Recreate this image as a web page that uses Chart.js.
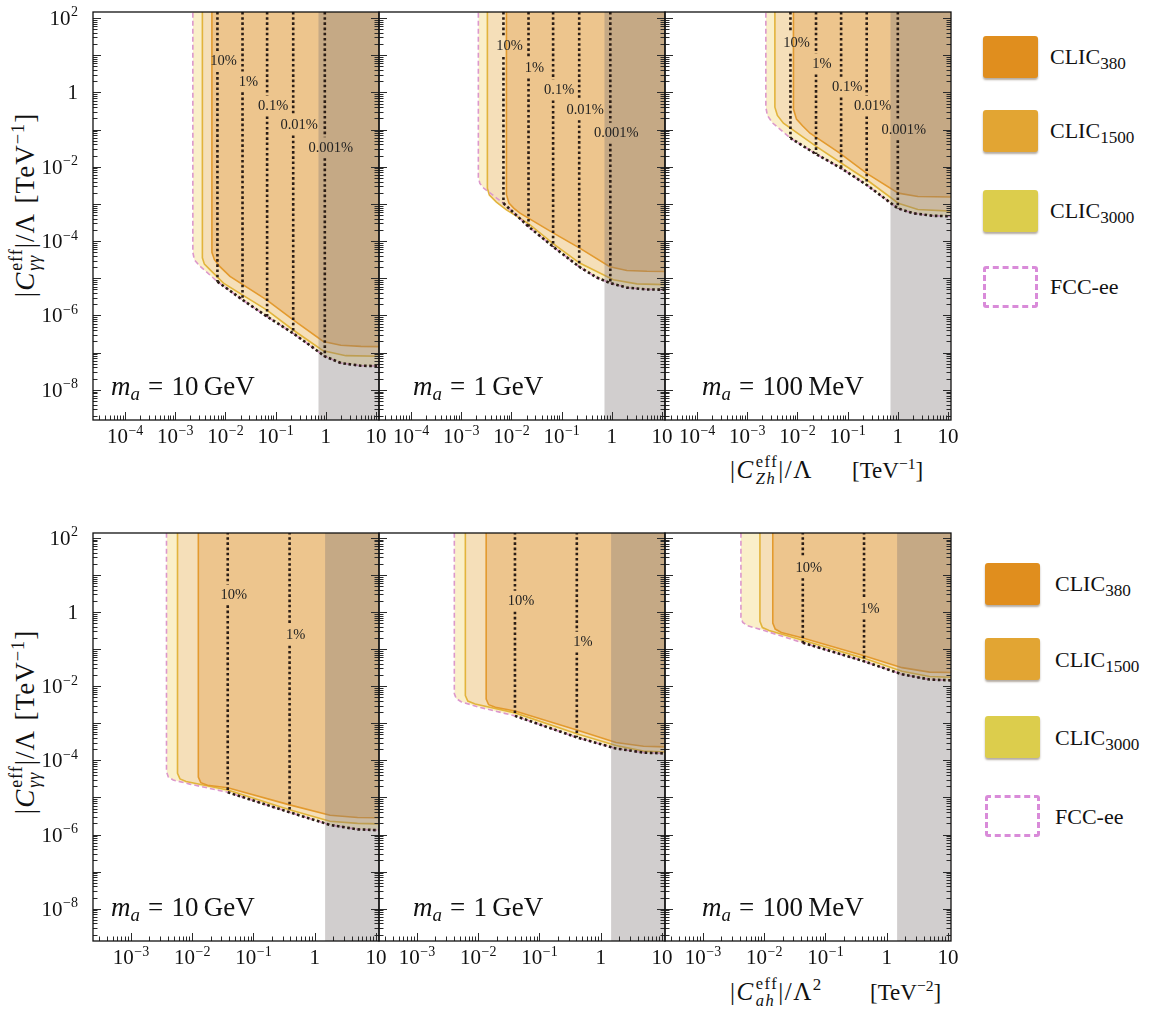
<!DOCTYPE html>
<html>
<head>
<meta charset="utf-8">
<title>ALP couplings: CLIC vs FCC-ee</title>
<script src="https://cdn.jsdelivr.net/npm/chart.js@4.4.1/dist/chart.umd.min.js"></script>
<style>
  body { margin: 0; width: 1149px; height: 1009px; position: relative; overflow: hidden; background: #fff;
         font-family: "Liberation Serif", "DejaVu Serif", serif; color: #111; }
  canvas { position: absolute; }
  .sw { position: absolute; width: 55px; height: 42px; border-radius: 3px; box-shadow: 0 2px 2px rgba(90,70,50,.45); box-sizing: border-box; }
  .leg { position: absolute; font-size: 22px; white-space: nowrap; transform: translateY(-50%); line-height: 1; }
  .leg sub { font-size: 0.78em; vertical-align: -0.3em; line-height: 0; }
  .ss { display: inline-block; vertical-align: -0.32em; font-size: 0.66em; line-height: 1; margin-left: 1px; }
  .ss span { display: block; }
  sup { font-size: 0.68em; vertical-align: 0.55em; line-height: 0; }
  .yt { position: absolute; white-space: nowrap; font-size: 27px; letter-spacing: 1px; transform: translate(-50%, -50%) rotate(-90deg); line-height: 1; }
  .xt { position: absolute; white-space: nowrap; font-size: 25px; letter-spacing: 1.5px; transform: translateY(-50%); line-height: 1; }
  .xu { position: absolute; white-space: nowrap; font-size: 23px; transform: translateY(-50%); line-height: 1; }
  .ma { position: absolute; white-space: nowrap; font-size: 27px; transform: translateY(-50%); line-height: 1; }
  .ma sub { font-size: 0.7em; vertical-align: -0.3em; line-height: 0; }
</style>
</head>
<body>
<div class="yt" style="left:26px;top:205px">|<i>C</i><span class="ss"><span>eff</span><span><i>γγ</i></span></span>|/Λ<span style="margin-left:.35em">[TeV<sup>−1</sup>]</span></div>
<div class="yt" style="left:26px;top:722px">|<i>C</i><span class="ss"><span>eff</span><span><i>γγ</i></span></span>|/Λ<span style="margin-left:.35em">[TeV<sup>−1</sup>]</span></div>
<div class="xt" style="left:730px;top:470px">|<i>C</i><span class="ss"><span>eff</span><span><i>Zh</i></span></span>|/Λ</div>
<div class="xu" style="left:852px;top:470px">[TeV<sup>−1</sup>]</div>
<div class="xt" style="left:730px;top:992px">|<i>C</i><span class="ss"><span>eff</span><span><i>ah</i></span></span>|/Λ<sup>2</sup></div>
<div class="xu" style="left:870px;top:992px">[TeV<sup>−2</sup>]</div>

<div class="sw" style="left:983px;top:36px;background:#e08e1e"></div><div class="leg" style="left:1050px;top:57px">CLIC<sub>380</sub></div>
<div class="sw" style="left:983px;top:110px;background:#e2a533"></div><div class="leg" style="left:1050px;top:131px">CLIC<sub>1500</sub></div>
<div class="sw" style="left:983px;top:190px;background:#dccd4c"></div><div class="leg" style="left:1050px;top:211px">CLIC<sub>3000</sub></div>
<div class="sw" style="left:983px;top:266px;background:#fff;border:3px dashed #d98bd9;box-shadow:none"></div><div class="leg" style="left:1050px;top:287px">FCC-ee</div>

<div class="sw" style="left:985px;top:563px;background:#e08e1e"></div><div class="leg" style="left:1055px;top:584px">CLIC<sub>380</sub></div>
<div class="sw" style="left:985px;top:638px;background:#e2a533"></div><div class="leg" style="left:1055px;top:660px">CLIC<sub>1500</sub></div>
<div class="sw" style="left:985px;top:716px;background:#dccd4c"></div><div class="leg" style="left:1055px;top:738px">CLIC<sub>3000</sub></div>
<div class="sw" style="left:985px;top:795px;background:#fff;border:3px dashed #d98bd9;box-shadow:none"></div><div class="leg" style="left:1055px;top:817px">FCC-ee</div>

<script>
// all curve values are log10 coordinates [log x, log y]
const topXRange = [-4.64, 1.06];
const botXRange = [-3.62, 1.05];
const topYRange = [-8.81, 2.16];
const botYRange = [-8.87, 2.13];
const topXTicks = [-4, -3, -2, -1, 0, 1];
const botXTicks = [-3, -2, -1, 0, 1];
const yTicks = [2, 0, -2, -4, -6, -8];
const topGreyStart = -0.15;
const botGreyStart = 0.17;
const masses = ['10', '1', '100'];
const massUnits = ['GeV', 'GeV', 'MeV'];
const topBRText = ['10%', '1%', '0.1%', '0.01%', '0.001%'];
const botBRText = ['10%', '1%'];

// top row: C_Zh
const outerZh10 = [[-2.65, 3], [-2.65, -4.3], [-2.62, -4.5], [-2.52, -4.66], [-2.16, -5.09], [-1.66, -5.58], [-1.17, -6.03], [-0.65, -6.48], [-0.3, -6.82], [-0.02, -7.1], [0.3, -7.28], [0.7, -7.35], [1.3, -7.37]];
const c1500Zh10 = [[-2.46, 3], [-2.46, -4.45], [-2.42, -4.62], [-2.3, -4.78], [-2.04, -5.13], [-1.18, -5.85], [-0.65, -6.39], [-0.3, -6.72], [-0.05, -6.95], [0.4, -7.08], [1.3, -7.1]];
const c380Zh10 = [[-2.27, 3], [-2.27, -4.3], [-2.22, -4.5], [-2.1, -4.7], [-1.91, -4.95], [-1.18, -5.58], [-0.65, -6.12], [-0.05, -6.7], [0.3, -6.8], [0.7, -6.83], [1.3, -6.84]];
const brXZh10 = [-2.16, -1.66, -1.17, -0.65, -0.02];
const brYZh10 = [0.83, 0.28, -0.37, -0.88, -1.49];
const brEndZh10 = [-5.09, -5.58, -6.03, -6.48, -7.1];

const outerZh1 = [[-2.66, 3], [-2.66, -2.28], [-2.63, -2.45], [-2.55, -2.58], [-2.16, -2.98], [-1.66, -3.61], [-1.17, -4.15], [-0.65, -4.69], [-0.3, -4.98], [-0.03, -5.13], [0.3, -5.25], [0.7, -5.3], [1.3, -5.31]];
const c1500Zh1 = [[-2.48, 3], [-2.48, -2.58], [-2.44, -2.76], [-2.3, -2.95], [-2.1, -3.16], [-1.66, -3.53], [-1.17, -4.07], [-0.64, -4.59], [0.03, -5.04], [0.5, -5.15], [1.3, -5.18]];
const c380Zh1 = [[-2.1, 3], [-2.1, -2.75], [-2.05, -2.98], [-1.95, -3.12], [-1.83, -3.25], [-1.17, -3.78], [-0.64, -4.19], [-0.04, -4.69], [0.3, -4.79], [0.7, -4.81], [1.3, -4.82]];
const brXZh1 = [-2.16, -1.66, -1.17, -0.65, -0.03];
const brYZh1 = [1.23, 0.65, 0.06, -0.47, -1.1];
const brEndZh1 = [-2.98, -3.61, -4.15, -4.69, -5.13];

const outerZh01 = [[-2.63, 3], [-2.63, -0.4], [-2.6, -0.62], [-2.5, -0.82], [-2.14, -1.23], [-1.63, -1.66], [-1.13, -2.04], [-0.62, -2.49], [0.0, -3.12], [0.3, -3.25], [0.7, -3.32], [1.3, -3.34]];
const c1500Zh01 = [[-2.45, 3], [-2.45, -0.4], [-2.4, -0.62], [-2.28, -0.83], [-1.62, -1.46], [-1.13, -1.9], [-0.62, -2.35], [0.01, -2.98], [0.4, -3.15], [1.3, -3.21]];
const c380Zh01 = [[-2.08, 3], [-2.08, -0.45], [-2.02, -0.72], [-1.9, -0.9], [-1.75, -1.1], [-1.15, -1.64], [-0.62, -2.18], [0.01, -2.71], [0.4, -2.8], [1.3, -2.82]];
const brXZh01 = [-2.14, -1.63, -1.13, -0.62, 0.0];
const brYZh01 = [1.32, 0.76, 0.14, -0.37, -1.01];
const brEndZh01 = [-1.23, -1.66, -2.04, -2.49, -3.12];

// bottom row: C_ah
const outerAh10 = [[-2.42, 3], [-2.42, -4.3], [-2.39, -4.45], [-2.31, -4.53], [-2.04, -4.64], [-1.42, -4.86], [-0.41, -5.4], [0.25, -5.74], [0.7, -5.86], [1.3, -5.9]];
const c1500Ah10 = [[-2.24, 3], [-2.24, -4.35], [-2.2, -4.5], [-2.1, -4.57], [-1.42, -4.8], [-0.41, -5.33], [0.25, -5.64], [0.7, -5.7], [1.3, -5.72]];
const c380Ah10 = [[-1.9, 3], [-1.9, -4.45], [-1.86, -4.6], [-1.75, -4.67], [-1.42, -4.74], [-0.41, -5.2], [0.25, -5.48], [0.7, -5.54], [1.3, -5.55]];
const brXAh10 = [-1.42, -0.41];
const brYAh10 = [0.46, -0.63];
const brEndAh10 = [-4.86, -5.4];

const outerAh1 = [[-2.39, 3], [-2.39, -2.2], [-2.36, -2.33], [-2.28, -2.42], [-2.0, -2.56], [-1.4, -2.8], [-0.39, -3.38], [0.25, -3.68], [0.7, -3.79], [1.3, -3.83]];
const c1500Ah1 = [[-2.21, 3], [-2.21, -2.25], [-2.17, -2.4], [-2.05, -2.48], [-1.4, -2.72], [-0.39, -3.28], [0.25, -3.6], [0.7, -3.75], [1.3, -3.79]];
const c380Ah1 = [[-1.87, 3], [-1.87, -2.35], [-1.83, -2.5], [-1.72, -2.57], [-1.4, -2.67], [-0.39, -3.18], [0.25, -3.52], [0.7, -3.62], [1.3, -3.65]];
const brXAh1 = [-1.4, -0.39];
const brYAh1 = [0.29, -0.81];
const brEndAh1 = [-2.8, -3.38];

const outerAh01 = [[-2.38, 3], [-2.38, -0.15], [-2.35, -0.28], [-2.27, -0.37], [-2.0, -0.5], [-1.37, -0.83], [-0.37, -1.33], [0.25, -1.68], [0.7, -1.82], [1.3, -1.86]];
const c1500Ah01 = [[-2.07, 3], [-2.07, -0.25], [-2.03, -0.42], [-1.92, -0.5], [-1.37, -0.76], [-0.37, -1.25], [0.25, -1.6], [0.7, -1.74], [1.3, -1.77]];
const c380Ah01 = [[-1.86, 3], [-1.86, -0.3], [-1.82, -0.46], [-1.72, -0.55], [-1.37, -0.7], [-0.37, -1.18], [0.25, -1.5], [0.7, -1.62], [1.3, -1.64]];
const brXAh01 = [-1.37, -0.37];
const brYAh01 = [1.19, 0.08];
const brEndAh01 = [-0.83, -1.33];

const panels = [
  { row: 0, col: 0, outer: outerZh10, c1500: c1500Zh10, c380: c380Zh10, brX: brXZh10, brY: brYZh10, brEnd: brEndZh10 },
  { row: 0, col: 1, outer: outerZh1, c1500: c1500Zh1, c380: c380Zh1, brX: brXZh1, brY: brYZh1, brEnd: brEndZh1 },
  { row: 0, col: 2, outer: outerZh01, c1500: c1500Zh01, c380: c380Zh01, brX: brXZh01, brY: brYZh01, brEnd: brEndZh01 },
  { row: 1, col: 0, outer: outerAh10, c1500: c1500Ah10, c380: c380Ah10, brX: brXAh10, brY: brYAh10, brEnd: brEndAh10 },
  { row: 1, col: 1, outer: outerAh1, c1500: c1500Ah1, c380: c380Ah1, brX: brXAh1, brY: brYAh1, brEnd: brEndAh1 },
  { row: 1, col: 2, outer: outerAh01, c1500: c1500Ah01, c380: c380Ah01, brX: brXAh01, brY: brYAh01, brEnd: brEndAh01 },
];

// layout of the 2x3 grid of frames (pixels)
const panelLeft = [93, 379, 665];
const panelW = 286, rowH = 408;
const rowTop = [12, 533];
const massInset = [18, 34, 37];
const FONT = '"Liberation Serif", "DejaVu Serif", serif';

const pt = (p) => ({ x: 10 ** p[0], y: 10 ** p[1] });

function drawPow(ctx, e, x, base, align) {
  const b = e === 0 ? '1' : '10';
  const s = (e === 0 || e === 1) ? '' : (e < 0 ? '\u2212' : '') + Math.abs(e);
  ctx.font = '21px ' + FONT;
  const wb = ctx.measureText(b).width;
  ctx.font = '14px ' + FONT;
  const ws = s ? ctx.measureText(s).width + 0.5 : 0;
  const x0 = align === 'right' ? x - wb - ws : x - (wb + ws) / 2;
  ctx.textAlign = 'left';
  ctx.textBaseline = 'alphabetic';
  ctx.font = '21px ' + FONT;
  ctx.fillText(b, x0, base);
  if (s) {
    ctx.font = '14px ' + FONT;
    ctx.fillText(s, x0 + wb + 0.5, base - 8.5);
  }
}

// frame ticks, tick labels and the branching-ratio labels
const frame = {
  id: 'frame',
  afterDatasetsDraw(chart, args, o) {
    const { ctx, chartArea: a, scales: { x, y } } = chart;
    ctx.save();
    ctx.fillStyle = '#222';
    ctx.font = '14.5px ' + FONT;
    ctx.textAlign = 'center';
    ctx.textBaseline = 'middle';
    o.brX.forEach((bx, i) => ctx.fillText(o.brText[i], x.getPixelForValue(10 ** bx) + 6, y.getPixelForValue(10 ** o.brY[i])));

    ctx.strokeStyle = '#2a2a2a';
    ctx.lineWidth = 1;
    ctx.beginPath();
    for (let d = -10; d <= 3; d++) {
      for (let m = 1; m <= 9; m++) {
        const v = m * 10 ** d;
        const len = m === 1 ? 8 : 4.5;
        if (v > y.min && v < y.max) {
          const py = Math.round(y.getPixelForValue(v)) + 0.5;
          ctx.moveTo(a.left, py); ctx.lineTo(a.left + len, py);
          ctx.moveTo(a.right, py); ctx.lineTo(a.right - len, py);
        }
        if (v > x.min && v < x.max) {
          const px = Math.round(x.getPixelForValue(v)) + 0.5;
          ctx.moveTo(px, a.bottom); ctx.lineTo(px, a.bottom - len);
        }
      }
    }
    ctx.stroke();
    ctx.lineWidth = 1.3;
    ctx.strokeStyle = '#111';
    ctx.strokeRect(a.left, a.top, a.width, a.height);

    ctx.fillStyle = '#111';
    o.xTicks.forEach(e => drawPow(ctx, e, x.getPixelForValue(10 ** e), a.bottom + 23, 'center'));
    if (o.yLabels) yTicks.forEach(e => drawPow(ctx, e, a.left - 15, y.getPixelForValue(10 ** e) + 7, 'right'));
    ctx.restore();
  }
};

const dotStyle = { borderColor: '#2a1c14', borderWidth: 2.6, borderDash: [2.6, 2.6], borderCapStyle: 'butt', fill: false };

panels.forEach(p => {
  const xr = p.row ? botXRange : topXRange;
  const yr = p.row ? botYRange : topYRange;
  const grey = p.row ? botGreyStart : topGreyStart;
  const padL = 70, padR = 12, padT = 10, padB = 40;
  const cv = document.createElement('canvas');
  cv.width = panelW + padL + padR;
  cv.height = rowH + padT + padB;
  cv.style.left = (panelLeft[p.col] - padL) + 'px';
  cv.style.top = (rowTop[p.row] - padT) + 'px';
  document.body.appendChild(cv);

  const datasets = [];
  p.brX.forEach((bx, i) => {
    datasets.push({ ...dotStyle, data: [
      { x: 10 ** bx, y: 10 ** 3 }, { x: 10 ** bx, y: 10 ** (p.brY[i] + 0.28) },
      { x: 10 ** bx, y: null },
      { x: 10 ** bx, y: 10 ** (p.brY[i] - 0.28) }, { x: 10 ** bx, y: 10 ** p.brEnd[i] }] });
  });
  datasets.push({ ...dotStyle, data: p.outer.filter(q => q[0] >= p.brX[0] - 1e-6).map(pt) });
  datasets.push({ data: [{ x: 10 ** grey, y: 10 ** (yr[0] - 1) }, { x: 10 ** grey, y: 10 ** (yr[1] + 1) }, { x: 10 ** (xr[1] + 1), y: 10 ** (yr[1] + 1) }],
    fill: 'start', backgroundColor: 'rgba(128,118,120,0.36)', borderWidth: 0 });
  datasets.push({ data: p.outer.map(pt), borderColor: '#dc98cc', borderWidth: 1.6, borderDash: [5, 3], fill: false });
  datasets.push({ data: p.c380.map(pt), borderColor: '#e39a2e', borderWidth: 1.6, fill: 'end', backgroundColor: '#edc58d' });
  datasets.push({ data: p.c1500.map(pt), borderColor: '#e2b43c', borderWidth: 1.6, fill: 'end', backgroundColor: '#f5dfb9' });
  datasets.push({ data: p.outer.map(pt), borderWidth: 0, fill: 'end', backgroundColor: '#faefc9' });

  new Chart(cv, {
    type: 'line',
    data: { datasets },
    options: {
      responsive: false,
      animation: false,
      devicePixelRatio: 1,
      layout: { padding: { left: padL, right: padR, top: padT, bottom: padB } },
      elements: { point: { radius: 0 }, line: { tension: 0 } },
      scales: {
        x: { type: 'logarithmic', min: 10 ** xr[0], max: 10 ** xr[1], display: false },
        y: { type: 'logarithmic', min: 10 ** yr[0], max: 10 ** yr[1], display: false },
      },
      plugins: {
        legend: { display: false },
        tooltip: { enabled: false },
        frame: { brX: p.brX, brY: p.brY, brText: p.row ? botBRText : topBRText,
                 xTicks: p.row ? botXTicks : topXTicks, yLabels: p.col === 0 },
      },
    },
    plugins: [frame],
  });

  const m = document.createElement('div');
  m.className = 'ma';
  m.style.left = (panelLeft[p.col] + massInset[p.col]) + 'px';
  m.style.top = (rowTop[p.row] + rowH - 34) + 'px';
  m.innerHTML = '<i>m</i><sub><i>a</i></sub><span style="margin:0 .3em">=</span>' + masses[p.col] + '\u2009' + massUnits[p.col];
  document.body.appendChild(m);
});
</script>
</body>
</html>
